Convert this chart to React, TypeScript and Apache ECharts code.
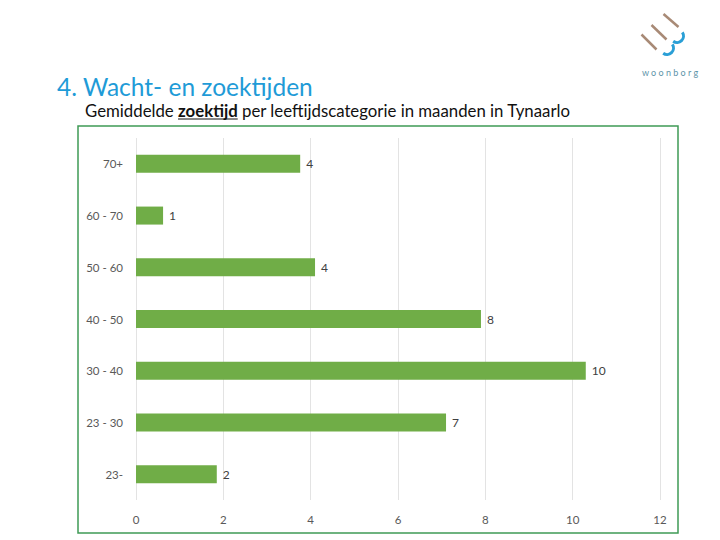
import React, { useEffect, useRef } from "react";
import * as echarts from "echarts";

const categories = ["23-", "23 - 30", "30 - 40", "40 - 50", "50 - 60", "60 - 70", "70+"];
const values = [1.85, 7.1, 10.3, 7.9, 4.1, 0.62, 3.76];
const xTicksMax = 12;
const xInterval = 2;
const titleText = "4. Wacht- en zoektijden";
const subPre = "Gemiddelde ";
const subBold = "zoektijd";
const subPost = " per leeftijdscategorie in maanden in Tynaarlo";

function measure(text: string, font: string): number {
  const c = document.createElement("canvas");
  const ctx = c.getContext("2d");
  if (!ctx) return text.length * 7;
  ctx.font = font;
  return ctx.measureText(text).width;
}

export default function App() {
  const ref = useRef<HTMLDivElement>(null);
  useEffect(() => {
    if (!ref.current) return;
    const chart = echarts.init(ref.current, undefined, { renderer: "svg" });
    const subFont = "Lato";
    const subSize = 16.8;
    const subX = 85;
    const preW = measure(subPre, `${subSize}px ${subFont}`);
    const boldW = measure(subBold, `bold ${subSize}px ${subFont}`);
    const brown = "#a88a76";
    const blue = "#2a9fd6";
    chart.setOption({
      animation: false,
      backgroundColor: "#ffffff",
      grid: { left: 136, right: 60, top: 138, bottom: 40, containLabel: false },
      xAxis: {
        type: "value",
        min: 0,
        max: xTicksMax,
        interval: xInterval,
        axisLine: { show: false },
        axisTick: { show: false },
        splitLine: { show: true, lineStyle: { color: "#e3e3e3", width: 1 } },
        axisLabel: { color: "#595959", fontSize: 11.5, fontFamily: "Lato", margin: 13 },
      },
      yAxis: {
        type: "category",
        data: categories,
        axisLine: { show: false },
        axisTick: { show: false },
        axisLabel: { color: "#595959", fontSize: 11.5, fontFamily: "Lato", margin: 13 },
      },
      series: [
        {
          type: "bar",
          data: values,
          barWidth: 18,
          itemStyle: { color: "#70ad47" },
          label: {
            show: true,
            position: "right",
            distance: 6,
            color: "#404040",
            fontSize: 12,
            fontFamily: "Lato",
            formatter: (p: any) => String(Math.round(p.value)),
          },
        },
      ],
      graphic: [
        {
          type: "rect",
          shape: { x: 78, y: 126, width: 600, height: 407 },
          style: { fill: "none", stroke: "#3f9a55", lineWidth: 1.5 },
          silent: true,
        },
        {
          type: "text",
          x: 57,
          y: 86,
          style: {
            text: titleText,
            font: `24.5px Lato`,
            fill: "#1f9bd7",
            textVerticalAlign: "middle",
          },
        },
        {
          type: "text",
          x: subX,
          y: 110,
          style: {
            text: `${subPre}{b|${subBold}}${subPost}`,
            fontFamily: subFont,
            fontSize: subSize,
            fill: "#111111",
            verticalAlign: "middle",
            rich: {
              b: { fontWeight: "bold", fontFamily: subFont, fontSize: subSize, fill: "#111111" },
            },
          },
        },
        {
          type: "line",
          shape: { x1: subX + preW, y1: 119, x2: subX + preW + boldW, y2: 119 },
          style: { stroke: "#111111", lineWidth: 1.2 },
        },
        // logo
        { type: "line", shape: { x1: 641.5, y1: 34.5, x2: 656.5, y2: 49.5 }, style: { stroke: brown, lineWidth: 2.5 } },
        { type: "line", shape: { x1: 651.5, y1: 25, x2: 666.5, y2: 39.5 }, style: { stroke: brown, lineWidth: 2.5 } },
        { type: "line", shape: { x1: 663.5, y1: 14, x2: 678.5, y2: 27 }, style: { stroke: brown, lineWidth: 2.5 } },
        {
          type: "arc",
          shape: { cx: 677, cy: 36, r: 6.5, startAngle: -0.6, endAngle: 2.2, clockwise: true },
          style: { stroke: blue, lineWidth: 3, fill: "none" },
        },
        {
          type: "arc",
          shape: { cx: 667, cy: 48, r: 6.5, startAngle: -0.6, endAngle: 2.2, clockwise: true },
          style: { stroke: blue, lineWidth: 3, fill: "none" },
        },
        {
          type: "text",
          x: 670,
          y: 72,
          style: {
            text: "w o o n b o r g",
            font: "9px Lato",
            fill: "#5d93a8",
            align: "center",
            verticalAlign: "middle",
          },
        },
      ],
    });
    return () => chart.dispose();
  }, []);
  return (
    <div
      ref={ref}
      style={{ position: "fixed", left: 0, top: 0, width: 720, height: 540, background: "#fff" }}
    />
  );
}
